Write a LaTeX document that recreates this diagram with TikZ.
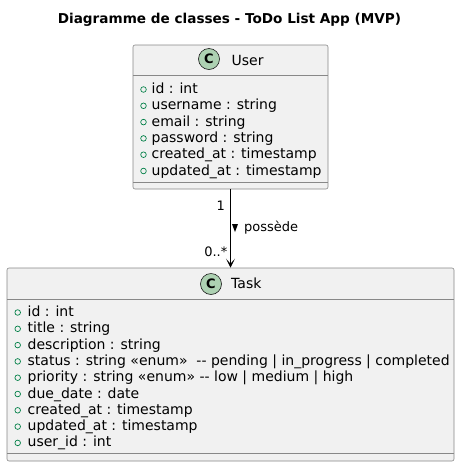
\documentclass[tikz,border=0pt]{standalone}
\usepackage{fontspec}
\setmainfont{DejaVu Sans}
\usetikzlibrary{arrows.meta}
\definecolor{boxfill}{HTML}{F1F1F1}
\definecolor{boxline}{HTML}{181818}
\definecolor{sepline}{HTML}{888888}
\definecolor{classgreen}{HTML}{ADD1B2}
\definecolor{attrgreen}{HTML}{038048}
\begin{document}
\begin{tikzpicture}[x=1pt,y=-1pt,
  classbox/.style={draw=sepline,fill=boxfill,line width=0.6pt,rounded corners=2pt,inner sep=0pt},
  classicon/.style={circle,draw=boxline,line width=0.6pt,fill=classgreen,minimum size=21pt,inner sep=0pt,font=\bfseries\fontsize{13}{13}\selectfont},
  attr/.style={anchor=base west,inner sep=0pt,font=\fontsize{14}{14}\selectfont},
  lbl/.style={inner sep=0pt,font=\fontsize{13}{13}\selectfont}]
  \useasboundingbox (0,0) rectangle (460,467);
  \node[anchor=base,inner sep=0pt,font=\bfseries\fontsize{13.6}{14}\selectfont] (title) at (229.5,23) {Diagramme de classes - ToDo List App (MVP)};
  % User
  \node[classbox,minimum width=195pt,minimum height=144pt] (user) at (230.5,117) {};
  \draw[sepline,line width=0.6pt] (133,75) -- (328,75) (133,182) -- (328,182);
  \node[classicon] (userC) at (209,59) {C};
  \node[attr] (username) at (231.5,65) {User};
  \foreach \txt [count=\i from 0] in {id : int, username : string, email : string, password : string, created\_at : timestamp, updated\_at : timestamp}{
    \draw[attrgreen,line width=0.7pt] (143.5,{89.5+16.3*\i}) circle (2.8pt);
    \node[attr] (ua\i) at (151.5,{93.5+16.3*\i}) {\txt};
  }
  % Task
  \node[classbox,minimum width=447pt,minimum height=193pt] (task) at (230.5,364.5) {};
  \draw[sepline,line width=0.6pt] (7,299) -- (454,299) (7,453) -- (454,453);
  \node[classicon] (taskC) at (211,284) {C};
  \node[attr] (taskname) at (231,288) {Task};
  \foreach \txt [count=\i from 0] in {id : int, title : string, description : string, status : string «enum»\ \ {-}{-} pending | in\_progress | completed, priority : string «enum» {-}{-} low | medium | high, due\_date : date, created\_at : timestamp, updated\_at : timestamp, user\_id : int}{
    \draw[attrgreen,line width=0.7pt] (17.7,{312.5+16.3*\i}) circle (2.8pt);
    \node[attr] (ta\i) at (27.5,{316.5+16.3*\i}) {\txt};
  }
  % association
  \draw[-{Stealth[length=9pt,width=9pt,inset=5pt]},line width=0.8pt] (user.south) -- (task.north);
  \node[lbl,anchor=east] (multuser) at (225,205.5) {1};
  \node[lbl,anchor=east] (multtask) at (227.5,252) {0..*};
  \fill (232,224) -- (238,224) -- (235,232) -- cycle;
  \node[lbl,anchor=west] (assoc) at (244,228) {possède};
\end{tikzpicture}
\end{document}
